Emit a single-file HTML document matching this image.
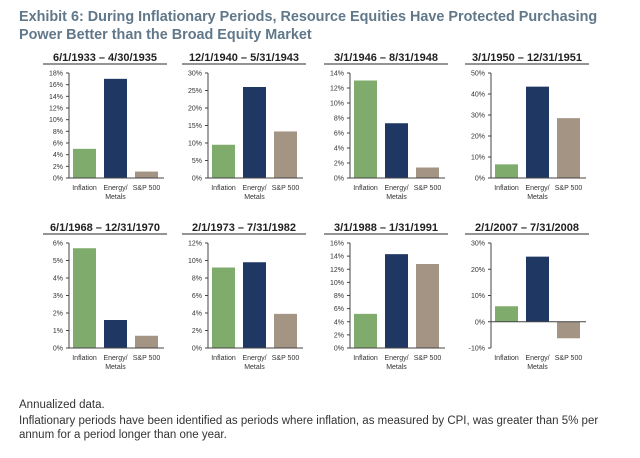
<!DOCTYPE html>
<html><head><meta charset="utf-8"><style>
body{margin:0;background:#fff;}
svg{display:block;font-family:"Liberation Sans",sans-serif;}
</style></head><body>
<svg id="chart" width="640" height="458" viewBox="0 0 640 458">
<text x="19" y="21" font-size="14.4" font-weight="bold" fill="#60788a">Exhibit 6: During Inflationary Periods, Resource Equities Have Protected Purchasing</text>
<text x="19" y="39" font-size="14.4" font-weight="bold" fill="#60788a">Power Better than the Broad Equity Market</text>
<text x="19" y="408" font-size="11.5" fill="#333">Annualized data.</text>
<text x="19" y="424" font-size="11.5" fill="#333">Inflationary periods have been identified as periods where inflation, as measured by CPI, was greater than 5% per</text>
<text x="19" y="438" font-size="11.5" fill="#333">annum for a period longer than one year.</text>
</svg>
<script>
const periods = ["6/1/1933 \u2013 4/30/1935","12/1/1940 \u2013 5/31/1943","3/1/1946 \u2013 8/31/1948","3/1/1950 \u2013 12/31/1951","6/1/1968 \u2013 12/31/1970","2/1/1973 \u2013 7/31/1982","3/1/1988 \u2013 1/31/1991","2/1/2007 \u2013 7/31/2008"];
const categories = ["Inflation","Energy/ Metals","S&P 500"];
const inflation = [5.0, 9.5, 13.0, 6.5, 5.7, 9.2, 5.2, 5.9];
const energyMetals = [17.0, 26.0, 7.3, 43.5, 1.6, 9.8, 14.3, 24.8];
const sp500 = [1.1, 13.3, 1.4, 28.5, 0.7, 3.9, 12.8, -6.3];
const axisMin = [0,0,0,0,0,0,0,-10];
const axisMax = [18,30,14,50,6,12,16,30];
const axisStep = [2,5,2,10,1,2,2,10];

const NS="http://www.w3.org/2000/svg";
const svg=document.getElementById('chart');
const colors=["#7fab6d","#1f3763","#a39483"];
const axX=[69,208,350,491];
function mk(t,a,p){const e=document.createElementNS(NS,t);for(const k in a)e.setAttribute(k,a[k]);(p||svg).appendChild(e);return e;}
for(let i=0;i<8;i++){
  const col=i%4,row=Math.floor(i/4);
  const ax=axX[col];
  const top=row?243:73, bot=row?348:178;
  const g=mk('g',{});
  
  
  const y=v=>bot-(v-axisMin[i])/(axisMax[i]-axisMin[i])*(bot-top);
  const t=mk('text',{x:ax+36,y:top-12,'font-size':11,'font-weight':'bold','text-anchor':'middle',fill:'#222'},g);
  t.textContent=periods[i];
  
  
  const ul=mk('line',{x1:ax-26,x2:ax+98,y1:top-9,y2:top-9,stroke:'#555','stroke-width':1.2},g);
  
  
  const ya=mk('line',{x1:ax,x2:ax,y1:top,y2:bot,stroke:'#444','stroke-width':1},g);
  
  
  for(let v=axisMin[i];v<=axisMax[i]+1e-9;v+=axisStep[i]){
    const yy=y(v);
    mk('line',{x1:ax-3,x2:ax,y1:yy,y2:yy,stroke:'#444'},g);
    const tl=mk('text',{x:ax-6,y:yy+2.5,'font-size':7,'text-anchor':'end',fill:'#333'},g);
    tl.textContent=v+'%';
    
    
  }
  const vals=[inflation[i],energyMetals[i],sp500[i]];
  const bw=23, slot=31;
  vals.forEach((v,k)=>{
    const x=ax+4+k*slot;
    const y0=y(0),y1=y(v);
    const r=mk('rect',{x:x,y:Math.min(y0,y1),width:bw,height:Math.abs(y1-y0),fill:colors[k]},g);
    
    
    const parts=categories[k]==="Energy/ Metals"?["Energy/","Metals"]:[categories[k]];
    parts.forEach((p,j)=>{
      const c=mk('text',{x:x+bw/2,y:bot+12+j*9,'font-size':7,'text-anchor':'middle',fill:'#333'},g);
      c.textContent=p;
      
      
    });
  });
  const y0=y(0);
  const xa=mk('line',{x1:ax,x2:ax+95,y1:y0,y2:y0,stroke:'#444','stroke-width':1},g);
  
  
}
</script>
</body></html>
